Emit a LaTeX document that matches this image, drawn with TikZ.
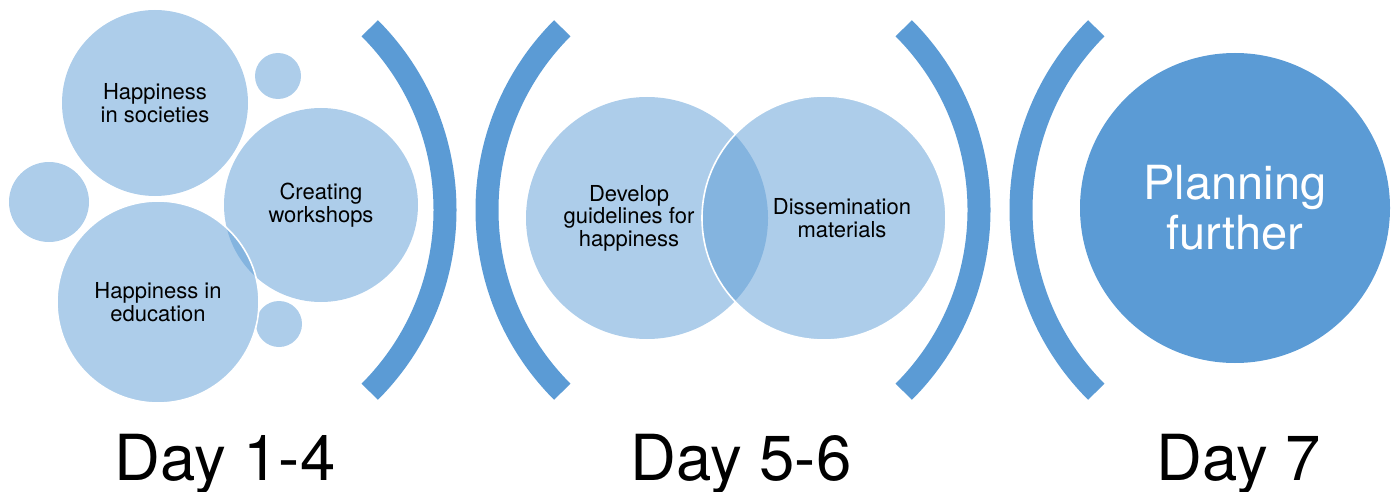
\documentclass[tikz,border=0pt]{standalone}
\usepackage{fontspec}
\setmainfont{TeX Gyre Heros}
\definecolor{accent}{HTML}{5B9BD5}
\begin{document}
\begin{tikzpicture}[x=1pt,y=-1pt,
  bubble/.style={circle, inner sep=0pt, fill=accent, fill opacity=0.5, text opacity=1, draw=none},
  rim/.style={draw=white, draw opacity=1, line width=1.6pt},
  lbl/.style={align=center, text=black, font=\fontsize{22}{22.5}\selectfont, inner sep=0pt},
  bracket/.style={draw=accent, line width=23pt, line cap=butt},
  daylbl/.style={anchor=base, font=\fontsize{63.5}{66}\selectfont, inner sep=0pt}]
\useasboundingbox (0,0) rectangle (1397,492);

% Day 1-4: cluster of bubbles
\node[bubble, minimum size=186pt] (soc) at (155,103) {};
\node[bubble, minimum size=46pt]  (s1)  at (278,76) {};
\node[bubble, minimum size=80pt]  (s2)  at (49,202) {};
\node[bubble, minimum size=194pt] (ws)  at (321,205) {};
\node[bubble, minimum size=46pt]  (s3)  at (279,324) {};
\node[bubble, rim, minimum size=202pt] (edu) at (158,302) {};
\node[lbl] (tsoc) at (soc.center) {Happiness\\in societies};
\node[lbl] (tws)  at (ws.center)  {Creating\\workshops};
\node[lbl] (tedu) at (edu.center) {Happiness in\\education};

% brackets around the middle block
\coordinate (c1) at (188,210);
\coordinate (c2) at (744,210);
\coordinate (c3) at (722,210);
\coordinate (c4) at (1278,210);
\draw[bracket] (c1) ++(-45:257pt) arc[start angle=-45, end angle=45, radius=257pt];
\draw[bracket] (c2) ++(135:257pt) arc[start angle=135, end angle=225, radius=257pt];
\draw[bracket] (c3) ++(-45:257pt) arc[start angle=-45, end angle=45, radius=257pt];
\draw[bracket] (c4) ++(135:257pt) arc[start angle=135, end angle=225, radius=257pt];

% Day 5-6: two overlapping circles
\node[bubble, minimum size=242pt] (dev) at (647,218) {};
\node[bubble, rim, minimum size=244pt] (dis) at (824,218) {};
\node[lbl] (tdev) at ([xshift=-18pt]dev.center) {Develop\\guidelines for\\happiness};
\node[lbl] (tdis) at ([xshift=18pt]dis.center) {Dissemination\\materials};

% Day 7
\node[circle, inner sep=0pt, fill=accent, minimum size=310pt, align=center,
      text=white, font=\fontsize{47}{50}\selectfont] (plan) at (1235,208) {Planning\\further};

% day captions
\node[daylbl] (d1) at (225,480) {Day 1-4};
\node[daylbl] (d2) at (741,480) {Day 5-6};
\node[daylbl] (d3) at (1239,480) {Day 7};
\end{tikzpicture}
\end{document}
